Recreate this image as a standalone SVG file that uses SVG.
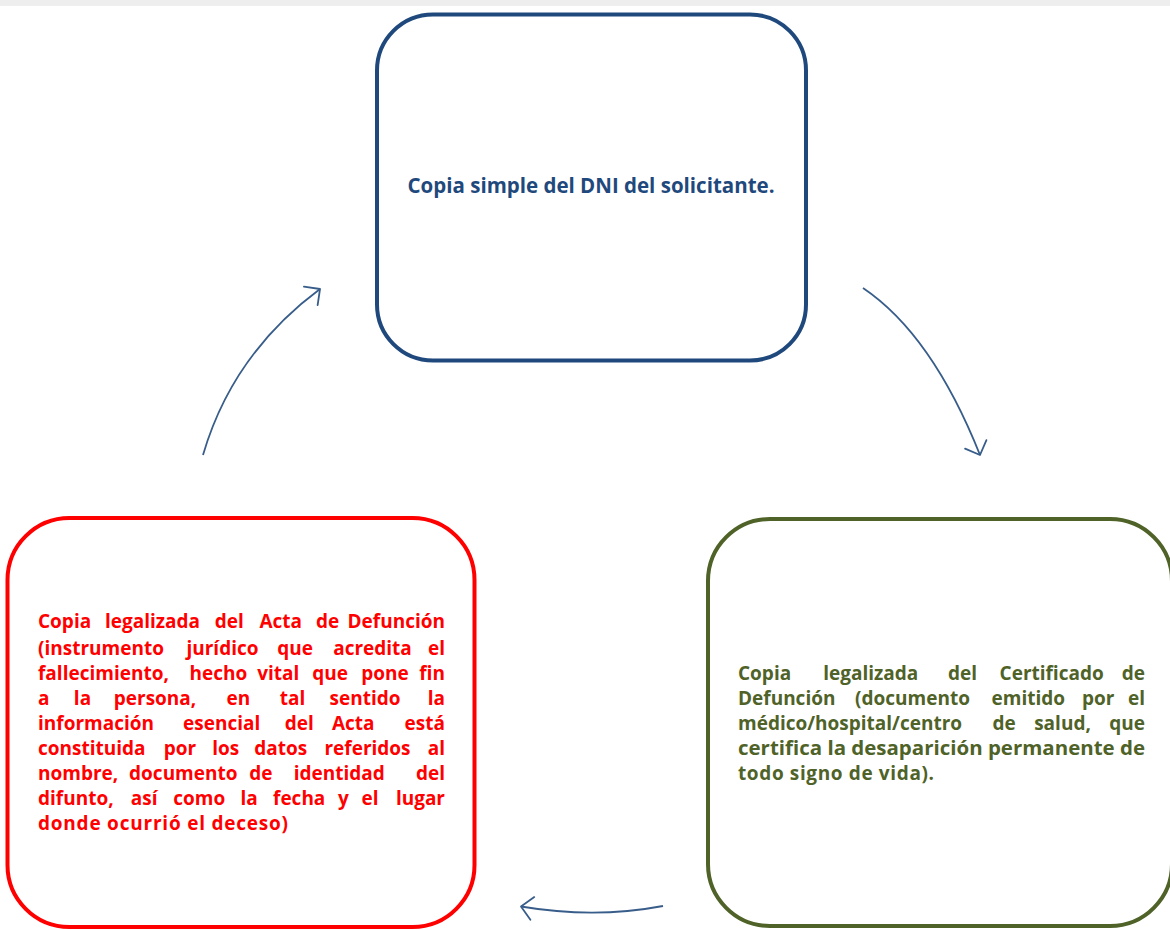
<svg xmlns="http://www.w3.org/2000/svg" width="1170" height="930" viewBox="0 0 1170 930">
<defs>
<style>
.box{fill:#ffffff;stroke-width:4}
.t{font-family:"Open Sans","Noto Sans","DejaVu Sans",sans-serif;font-weight:bold;font-size:19px}
.big{font-size:20.5px}
.red{fill:#ff0000}
.grn{fill:#4f6228}
.blu{fill:#1f497d}
.m{text-anchor:middle}
.e{text-anchor:end}
.conn{fill:none;stroke:#385d8a;stroke-width:1.8}
</style>
<marker id="arr" viewBox="-14 -14 16 28" markerWidth="16" markerHeight="28" refX="0" refY="0" orient="auto" markerUnits="userSpaceOnUse">
<path d="M-11.5,-11.5 L0,0 L-11.5,11.5" fill="none" stroke="#385d8a" stroke-width="1.8" stroke-linecap="round" stroke-linejoin="round"/>
</marker>
</defs>
<rect x="0" y="0" width="1170" height="6" fill="#eeeeee"/>
<rect x="0" y="6" width="1170" height="924" fill="#ffffff"/>

<g id="node-dni">
<rect class="box" x="377" y="14.5" width="429" height="346" rx="56" ry="56" stroke="#1f497d"/>
<text class="t big blu m" x="591" y="193" textLength="367" lengthAdjust="spacing">Copia simple del DNI del solicitante.</text>
</g>

<g id="node-acta">
<rect class="box" x="7.5" y="518" width="467" height="409" rx="62" ry="62" stroke="#ff0000" stroke-width="3.5"/>
<g class="t red">
<text y="628"><tspan x="38">Copia</tspan><tspan class="m" x="152.5">legalizada</tspan><tspan class="m" x="229.2">del</tspan><tspan class="m" x="280.8">Acta</tspan><tspan class="m" x="327.5">de</tspan><tspan class="e" x="445">Defunción</tspan></text>
<text y="655"><tspan x="38">(instrumento</tspan><tspan class="m" x="222.5">jurídico</tspan><tspan class="m" x="295">que</tspan><tspan class="m" x="372.5">acredita</tspan><tspan class="e" x="445">el</tspan></text>
<text y="680"><tspan x="38">fallecimiento,</tspan><tspan class="m" x="218.3">hecho</tspan><tspan class="m" x="278.3">vital</tspan><tspan class="m" x="330">que</tspan><tspan class="m" x="385">pone</tspan><tspan class="e" x="445">fin</tspan></text>
<text y="705"><tspan x="38">a</tspan><tspan class="m" x="82.5">la</tspan><tspan class="m" x="155">persona,</tspan><tspan class="m" x="238.3">en</tspan><tspan class="m" x="292.5">tal</tspan><tspan class="m" x="365">sentido</tspan><tspan class="e" x="445">la</tspan></text>
<text y="730"><tspan x="38">información</tspan><tspan class="m" x="221.7">esencial</tspan><tspan class="m" x="299.2">del</tspan><tspan class="m" x="353.3">Acta</tspan><tspan class="e" x="445">está</tspan></text>
<text y="755"><tspan x="38">constituida</tspan><tspan class="m" x="180">por</tspan><tspan class="m" x="225.8">los</tspan><tspan class="m" x="280.8">datos</tspan><tspan class="m" x="367.5">referidos</tspan><tspan class="e" x="445">al</tspan></text>
<text y="780"><tspan x="38">nombre,</tspan><tspan class="m" x="183.3">documento</tspan><tspan class="m" x="260.8">de</tspan><tspan class="m" x="339.2">identidad</tspan><tspan class="e" x="445">del</tspan></text>
<text y="805"><tspan x="38">difunto,</tspan><tspan class="m" x="144.2">así</tspan><tspan class="m" x="199.2">como</tspan><tspan class="m" x="249.2">la</tspan><tspan class="m" x="299.2">fecha</tspan><tspan class="m" x="343.3">y</tspan><tspan class="m" x="370">el</tspan><tspan class="e" x="445">lugar</tspan></text>
<text y="830" x="38" textLength="250" lengthAdjust="spacing">donde ocurrió el deceso)</text>
</g>
</g>

<g id="node-certificado">
<rect class="box" x="708" y="519" width="464" height="407" rx="62" ry="62" stroke="#4f6228"/>
<g class="t grn">
<text y="680"><tspan x="738">Copia</tspan><tspan class="m" x="870.8">legalizada</tspan><tspan class="m" x="962.5">del</tspan><tspan class="m" x="1051.7">Certificado</tspan><tspan class="e" x="1145">de</tspan></text>
<text y="705"><tspan x="738">Defunción</tspan><tspan class="m" x="912.5">(documento</tspan><tspan class="m" x="1028.3">emitido</tspan><tspan class="m" x="1098.3">por</tspan><tspan class="e" x="1145">el</tspan></text>
<text y="730"><tspan x="738">médico/hospital/centro</tspan><tspan class="m" x="1004.2">de</tspan><tspan class="m" x="1062.5">salud,</tspan><tspan class="e" x="1145">que</tspan></text>
<text y="755" x="738" textLength="407" lengthAdjust="spacingAndGlyphs">certifica la desaparición permanente de</text>
<text y="780" x="738" textLength="196" lengthAdjust="spacing">todo signo de vida).</text>
</g>
</g>

<g id="connectors">
<path class="conn" d="M203,455 Q232.5,354 320,289" marker-end="url(#arr)"/>
<path class="conn" d="M863,288 Q932,334.5 980,455" marker-end="url(#arr)"/>
<path class="conn" d="M663,906 Q594.6,919 521,906.5" marker-end="url(#arr)"/>
</g>
</svg>
